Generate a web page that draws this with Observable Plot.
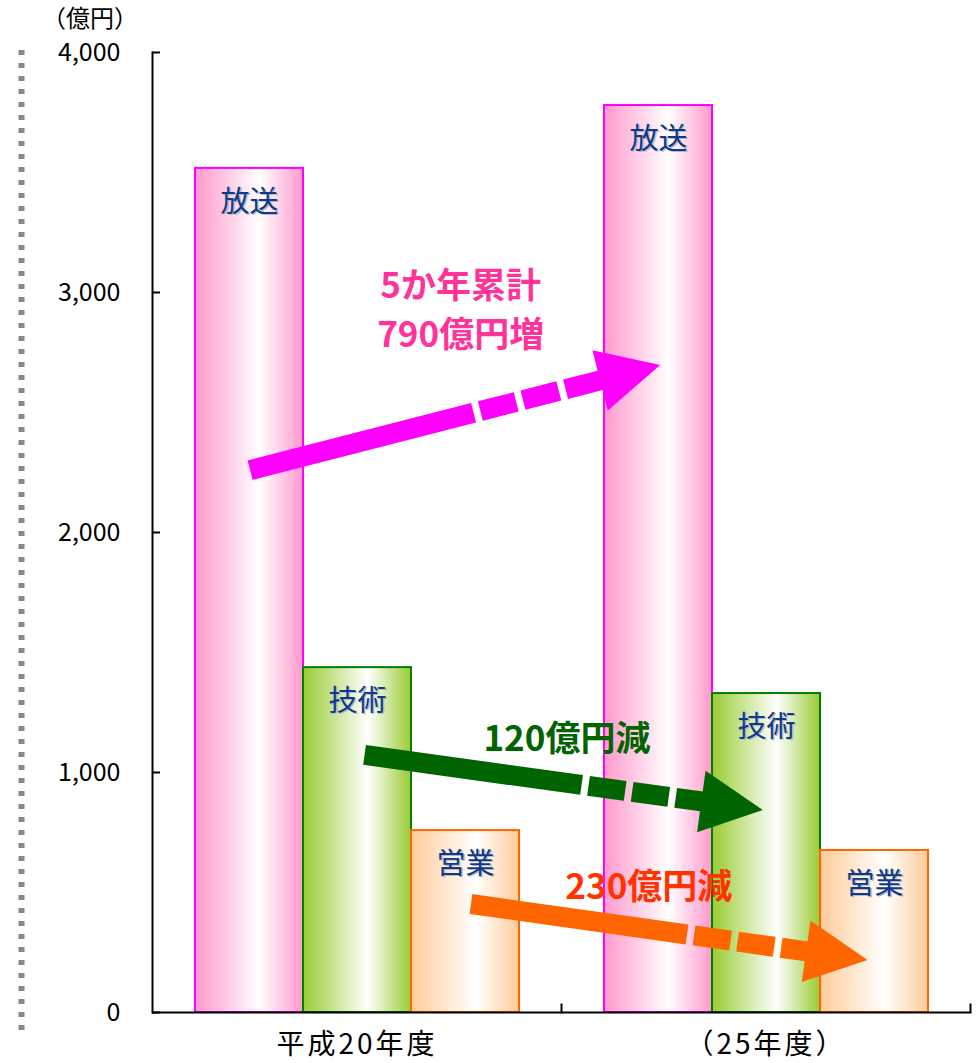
<!DOCTYPE html>
<html><head><meta charset="utf-8">
<script src="https://cdn.jsdelivr.net/npm/d3@7"></script>
<script src="https://cdn.jsdelivr.net/npm/@observablehq/plot@0.6"></script>
<style>
body{margin:0;background:#fff}
#chart{width:979px;height:1063px}
g[aria-label="fx-axis tick label"] text{letter-spacing:3px}
</style>
</head><body><div id="chart"></div>
<script>
// ---- data ----
const years = ["平成20年度", "（25年度）"];
const categories = ["放送", "技術", "営業"];
const valuesH20 = [3517, 1437, 758];
const valuesH25 = [3779, 1329, 675];
const yTicks = [0, 1000, 2000, 3000, 4000];
const yUnit = "（億円）";
// colours per category
const barEdge = ["#ff99cc", "#99cc33", "#ffcc99"];
const barStroke = ["#ff00ff", "#008000", "#ff6600"];
const labelColor = "#0d3a8c";
// change annotations: [year, category, fraction across bar, value]
const arrowFrom = [["平成20年度","放送",0.51,2258], ["平成20年度","技術",0.57,1071], ["平成20年度","営業",0.555,450]];
const arrowTo   = [["（25年度）","放送",0.52,2696], ["（25年度）","技術",0.47,842], ["（25年度）","営業",0.44,217]];
const arrowColor = ["#ff00ff", "#006400", "#ff6600"];
const noteText = [["5か年累計", "790億円増"], ["120億円減"], ["230億円減"]];
const noteAt = [["平成20年度","営業",0.46,2937], ["平成20年度","営業",1.444,1154], ["（25年度）","放送",0.415,537]];
const noteColor = ["#ff3399", "#006400", "#ff3300"];

const data = years.flatMap((yr, i) => categories.map((c, j) => ({year: yr, cat: c, value: [valuesH20, valuesH25][i][j], k: j})));
const FONT = "'Noto Sans CJK JP', 'Noto Sans', sans-serif";

const plot = Plot.plot({
  width: 979, height: 1063,
  marginLeft: 152, marginRight: 9, marginTop: 52, marginBottom: 51,
  style: {fontFamily: FONT, color: "#000", background: "#fff", overflow: "visible"},
  fx: {domain: years, padding: 0, label: null},
  x: {domain: categories, paddingInner: 0, paddingOuter: 0.39, axis: null},
  y: {domain: [0, 4000], label: null},
  color: {type: "identity"},
  marks: [
    Plot.barY(data, {fx: "year", x: "cat", y: "value", fill: d => `url(#grad-${d.k})`, stroke: d => barStroke[d.k], strokeWidth: 2}),
    Plot.text(data, {fx: "year", x: "cat", y: "value", text: "cat", dy: 35.5, dx: 1.5, fill: "#b8b8c0", fontSize: 29}),
    Plot.text(data, {fx: "year", x: "cat", y: "value", text: "cat", dy: 34, fill: labelColor, fontSize: 29}),
    Plot.ruleY([0], {strokeWidth: 2}),
    Plot.frame({anchor: "left", facetAnchor: "left", strokeWidth: 2}),
    Plot.frame({anchor: "right", insetTop: 952, strokeWidth: 2}),
    Plot.axisY(yTicks, {tickFormat: d3.format(","), tickSize: -8, tickPadding: 40, fontSize: 25, strokeWidth: 2, label: null}),
    Plot.axisFx({anchor: "bottom", tickSize: 0, tickPadding: 22, fontSize: 28, label: null})
  ]
});
document.getElementById("chart").appendChild(plot);

// ---- gradients, annotations via the plot's scales ----
const svg = d3.select(plot);
const defs = svg.insert("defs", ":first-child");
barEdge.forEach((c, i) => {
  const g = defs.append("linearGradient").attr("id", `grad-${i}`).attr("x1", 0).attr("x2", 1).attr("y1", 0).attr("y2", 0);
  g.append("stop").attr("offset", 0).attr("stop-color", c);
  g.append("stop").attr("offset", 0.6).attr("stop-color", "#fff");
  g.append("stop").attr("offset", 1).attr("stop-color", c);
});

const fxS = plot.scale("fx"), xS = plot.scale("x"), yS = plot.scale("y");
const ML = 152;
const pos = ([yr, cat, f, v]) => [fxS.apply(yr) - ML + xS.apply(cat) + f * xS.bandwidth, yS.apply(v)];

// unit label above the y axis
svg.append("text").attr("x", ML - 62).attr("y", yS.apply(4000) - 36)
  .attr("text-anchor", "middle").attr("dominant-baseline", "central")
  .style("font-family", FONT).style("font-size", "24px").attr("fill", "#000").text(yUnit);

// dotted decoration at the far left
svg.append("line").attr("x1", 21.5).attr("x2", 21.5).attr("y1", 50).attr("y2", 1037)
  .attr("stroke", "#888").attr("stroke-width", 6).attr("stroke-dasharray", "5 8");

const ann = svg.append("g");
arrowFrom.forEach((from, i) => {
  const [sx, sy] = pos(from), [tx, ty] = pos(arrowTo[i]);
  const len = Math.hypot(tx - sx, ty - sy);
  const ux = (tx - sx) / len, uy = (ty - sy) / len, nx = -uy, ny = ux;
  const H = 62, W = 31;
  const bx = tx - H * ux, by = ty - H * uy;
  const solid = 0.545 * len;
  ann.append("line").attr("x1", sx).attr("y1", sy).attr("x2", bx + ux * 2).attr("y2", by + uy * 2)
    .attr("stroke", arrowColor[i]).attr("stroke-width", 20)
    .attr("stroke-dasharray", `${solid} 7 37 7 37 7 1000`);
  ann.append("path").attr("d", `M${tx},${ty}L${bx + W * nx},${by + W * ny}L${bx - W * nx},${by - W * ny}Z`)
    .attr("fill", arrowColor[i]);
});
noteAt.forEach((p, i) => {
  const [x, y] = pos(p);
  const lines = noteText[i];
  lines.forEach((s, j) => {
    ann.append("text").attr("x", x).attr("y", y - (lines.length - 1) * 24.5 + j * 49)
      .attr("text-anchor", "middle").attr("dominant-baseline", "central")
      .style("font-family", FONT).style("font-weight", "bold").style("font-size", "35px")
      .attr("fill", noteColor[i]).text(s);
  });
});
</script>
</body></html>
